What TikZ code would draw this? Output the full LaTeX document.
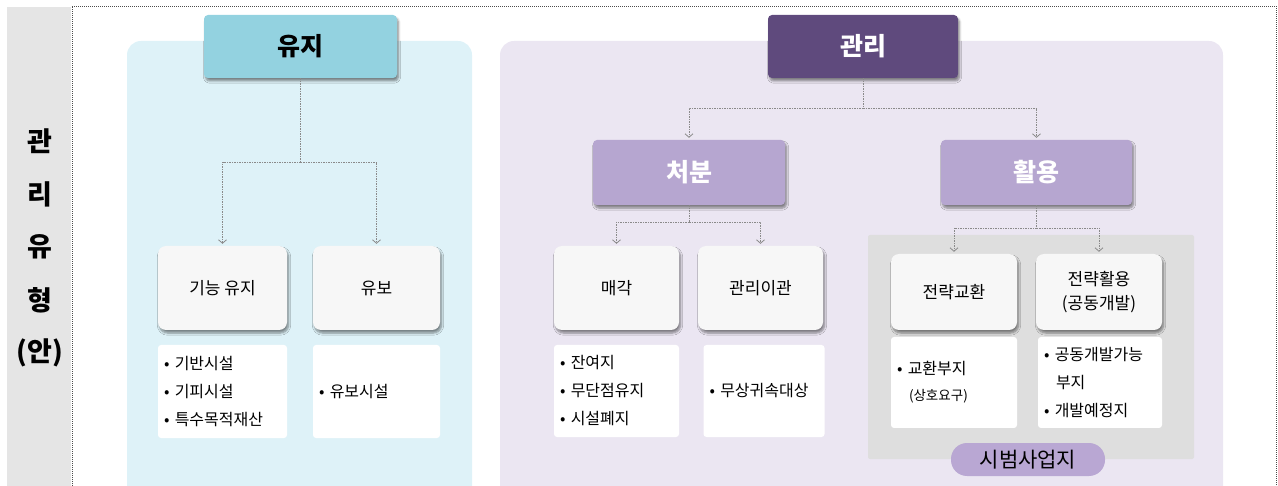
\documentclass[tikz,border=0pt]{standalone}
\usepackage{fontspec}
\setmainfont{Noto Sans CJK KR}
\usetikzlibrary{arrows.meta,shadows.blur}
\definecolor{bandgray}{HTML}{E5E5E5}
\definecolor{cyanpanel}{HTML}{DEF2F8}
\definecolor{cyanhdr}{HTML}{93D2E0}
\definecolor{lavpanel}{HTML}{EBE6F2}
\definecolor{purplehdr}{HTML}{5F4A7D}
\definecolor{lilachdr}{HTML}{B6A6D0}
\definecolor{grayregion}{HTML}{DEDEDE}
\definecolor{boxfill}{HTML}{F7F7F7}
\definecolor{pillfill}{HTML}{B9A7D3}
\definecolor{connc}{HTML}{8A8A8A}
\begin{document}
\begin{tikzpicture}[x=1pt,y=-1pt,
  shad/.style={blur shadow={shadow xshift=1.5pt,shadow yshift=-3pt,shadow blur steps=6,shadow opacity=45}},
  hdr/.style={shad,rounded corners=4pt,font=\fontsize{25}{27}\selectfont\bfseries},
  box/.style={shad,fill=boxfill,rounded corners=8pt,font=\fontsize{17}{24}\selectfont,align=center},
  lst/.style={fill=white,rounded corners=3pt,font=\fontsize{16}{28}\selectfont,align=left,inner xsep=6pt,inner ysep=0pt},
  conn/.style={draw=connc,line width=0.8pt,dash pattern=on 1.5pt off 1pt},
  arr/.style={-{Straight Barb[length=3.5pt,width=8pt,line width=0.8pt]},shorten >=2pt},
  side/.style={font=\fontsize{27}{29}\selectfont\bfseries}
]
\useasboundingbox (0,0) rectangle (1278,486);
\clip (0,0) rectangle (1278,486);
% frame
\fill[bandgray] (7,7) rectangle (71,490);
\draw[black!70,line width=0.6pt,dash pattern=on 1pt off 1pt] (72,490) -- (72,6) -- (1276,6) -- (1276,490);
\node[side] (s1) at (40,141) {관};
\node[side] (s2) at (40,194) {리};
\node[side] (s3) at (40,247) {유};
\node[side] (s4) at (40,300) {형};
\node[side] (s5) at (40,353) {(안)};
% panels
\fill[cyanpanel,rounded corners=14pt] (127,41) rectangle (472,500);
\fill[lavpanel,rounded corners=14pt] (500,41) rectangle (1223,500);
\fill[grayregion,rounded corners=2pt] (868,235) rectangle (1194,459);
% headers
\node[hdr,fill=cyanhdr,minimum width=193pt,minimum height=63pt] (yuji) at (300.5,46.5) {유지};
\node[hdr,fill=purplehdr,text=white,minimum width=190pt,minimum height=63pt] (gwanri) at (863,46.5) {관리};
\node[hdr,fill=lilachdr,text=white,minimum width=192pt,minimum height=65pt] (cheobun) at (689,172.5) {처분};
\node[hdr,fill=lilachdr,text=white,minimum width=191pt,minimum height=65pt] (hwalyong) at (1036.5,172.5) {활용};
% boxes
\node[box,minimum width=129pt,minimum height=84pt] (gn) at (222.5,288) {기능 유지};
\node[box,minimum width=127pt,minimum height=84pt] (yubo) at (376.5,288) {유보};
\node[box,minimum width=125pt,minimum height=84pt] (maegak) at (616.5,288) {매각};
\node[box,minimum width=125pt,minimum height=84pt] (igwan) at (760.5,288) {관리이관};
\node[box,minimum width=126pt,minimum height=76pt] (gyohwan) at (954,292) {전략교환};
\node[box,minimum width=126pt,minimum height=76pt] (jeonryak) at (1099,292) {전략활용\\(공동개발)};
% lists
\node[lst,text width=117pt,minimum height=93pt] (l1) at (222.5,391.5) {• 기반시설\\• 기피시설\\• 특수목적재산};
\node[lst,text width=115pt,minimum height=93pt] (l2) at (376.5,391.5) {• 유보시설};
\node[lst,text width=113pt,minimum height=92pt] (l3) at (616.5,391) {• 잔여지\\• 무단점유지\\• 시설폐지};
\node[lst,text width=109pt,minimum height=92pt] (l4) at (764,391) {• 무상귀속대상};
\node[lst,text width=114pt,minimum height=91pt] (l5) at (954,382.5) {• 교환부지\\[-2pt]\hspace*{12pt}{\fontsize{13.5}{15}\selectfont(상호요구)}};
\node[lst,text width=112pt,minimum height=91pt] (l6) at (1100,382.5) {• 공동개발가능\\\hspace*{12pt}부지\\• 개발예정지};
\node[fill=pillfill,rounded corners=16pt,minimum width=154pt,minimum height=33pt,font=\fontsize{21}{22}\selectfont] (pilot) at (1028,459.5) {시범사업지};
% connectors
\coordinate (j1) at (300.5,162);
\coordinate (j2) at (863,108);
\coordinate (j3) at (689,222);
\coordinate (j4) at (1036.5,228);
\draw[conn] (yuji.south) -- (j1);
\draw[conn,arr] (j1) -| (gn.north);
\draw[conn,arr] (j1) -| (yubo.north);
\draw[conn] (gwanri.south) -- (j2);
\draw[conn,arr] (j2) -| (cheobun.north);
\draw[conn,arr] (j2) -| (hwalyong.north);
\draw[conn] (cheobun.south) -- (j3);
\draw[conn,arr] (j3) -| (maegak.north);
\draw[conn,arr] (j3) -| (igwan.north);
\draw[conn] (hwalyong.south) -- (j4);
\draw[conn,arr] (j4) -| (gyohwan.north);
\draw[conn,arr] (j4) -| (jeonryak.north);
\end{tikzpicture}
\end{document}
